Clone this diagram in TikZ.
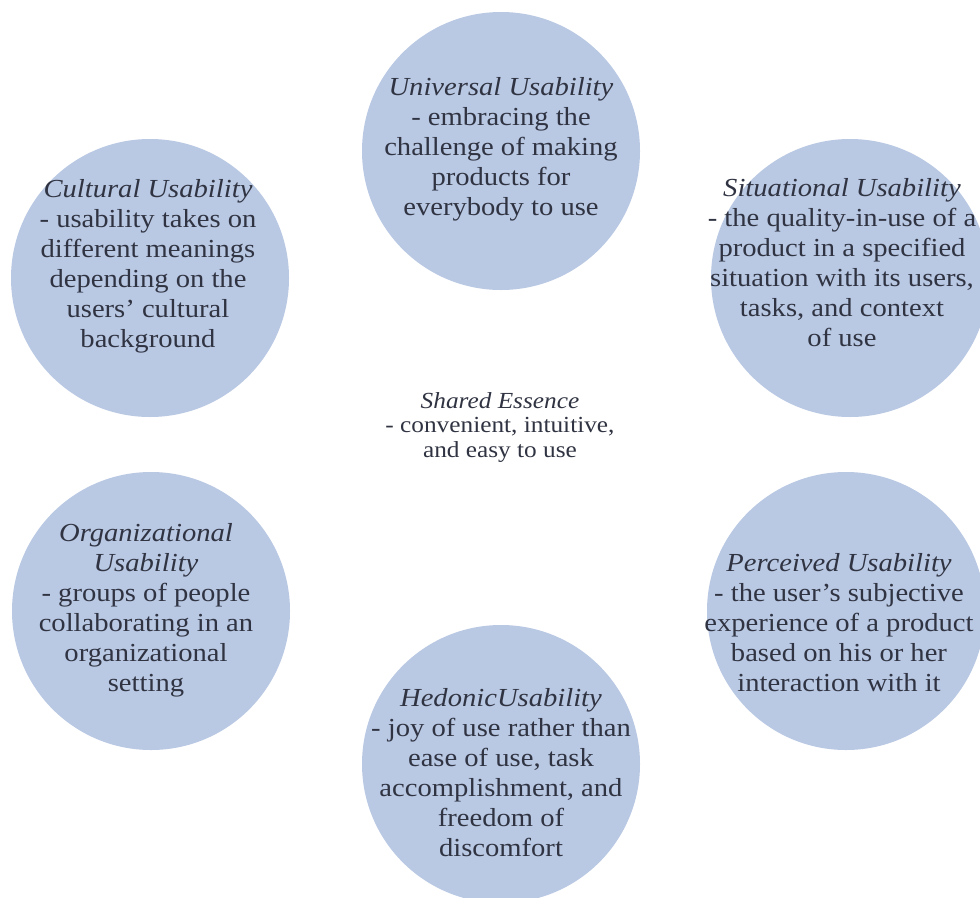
\documentclass[tikz,border=0pt]{standalone}
\usepackage{fontspec}
\setmainfont[FakeStretch=1.1]{Liberation Serif}
\definecolor{bubblefill}{RGB}{185,200,227}
\definecolor{inktext}{RGB}{48,52,66}
\tikzset{
  bubble/.style={circle, fill=bubblefill, draw=none, minimum size=278pt, inner sep=0pt},
  bubbletext/.style={align=center, text=inktext, inner sep=0pt,
    font=\fontsize{26}{30}\selectfont},
  coretext/.style={align=center, text=inktext, inner sep=0pt,
    font=\fontsize{23}{24.5}\selectfont}
}
\begin{document}
\begin{tikzpicture}[x=1pt,y=-1pt]
\useasboundingbox (0,0) rectangle (980,897);
\fill[white] (0,0) rectangle (980,897);

% the six usability bubbles
\node[bubble] (uni) at (501,151) {};
\node[bubble] (cul) at (150,278) {};
\node[bubble] (sit) at (850,278) {};
\node[bubble] (org) at (151,611) {};
\node[bubble] (per) at (846,611) {};
\node[bubble] (hed) at (501,764) {};

% bubble captions
\node[bubbletext] (uni-t) at ([yshift=2pt]uni.center)
  {\textit{Universal Usability}\\- embracing the\\challenge of making\\products for\\everybody to use};
\node[bubbletext] (cul-t) at ([yshift=12pt,xshift=-2pt]cul.center)
  {\textit{Cultural Usability}\\- usability takes on\\different meanings\\depending on the\\users’ cultural\\background};
\node[bubbletext] (sit-t) at ([yshift=15pt,xshift=-8pt]sit.center)
  {\textit{Situational Usability}\\- the quality-in-use of a\\product in a specified\\situation with its users,\\tasks, and context\\of use};
\node[bubbletext] (org-t) at ([yshift=1pt,xshift=-5pt]org.center)
  {\textit{Organizational}\\\textit{Usability}\\- groups of people\\collaborating in an\\organizational\\setting};
\node[bubbletext] (per-t) at ([yshift=-12pt,xshift=-7pt]per.center)
  {\textit{Perceived Usability}\\- the user’s subjective\\experience of a product\\based on his or her\\interaction with it};
\node[bubbletext] (hed-t) at ([yshift=-9pt]hed.center)
  {\textit{HedonicUsability}\\- joy of use rather than\\ease of use, task\\accomplishment, and\\freedom of\\discomfort};

% shared core in the middle
\node[coretext] (core) at (500,427)
  {\textit{Shared Essence}\\- convenient, intuitive,\\and easy to use};
\end{tikzpicture}
\end{document}
